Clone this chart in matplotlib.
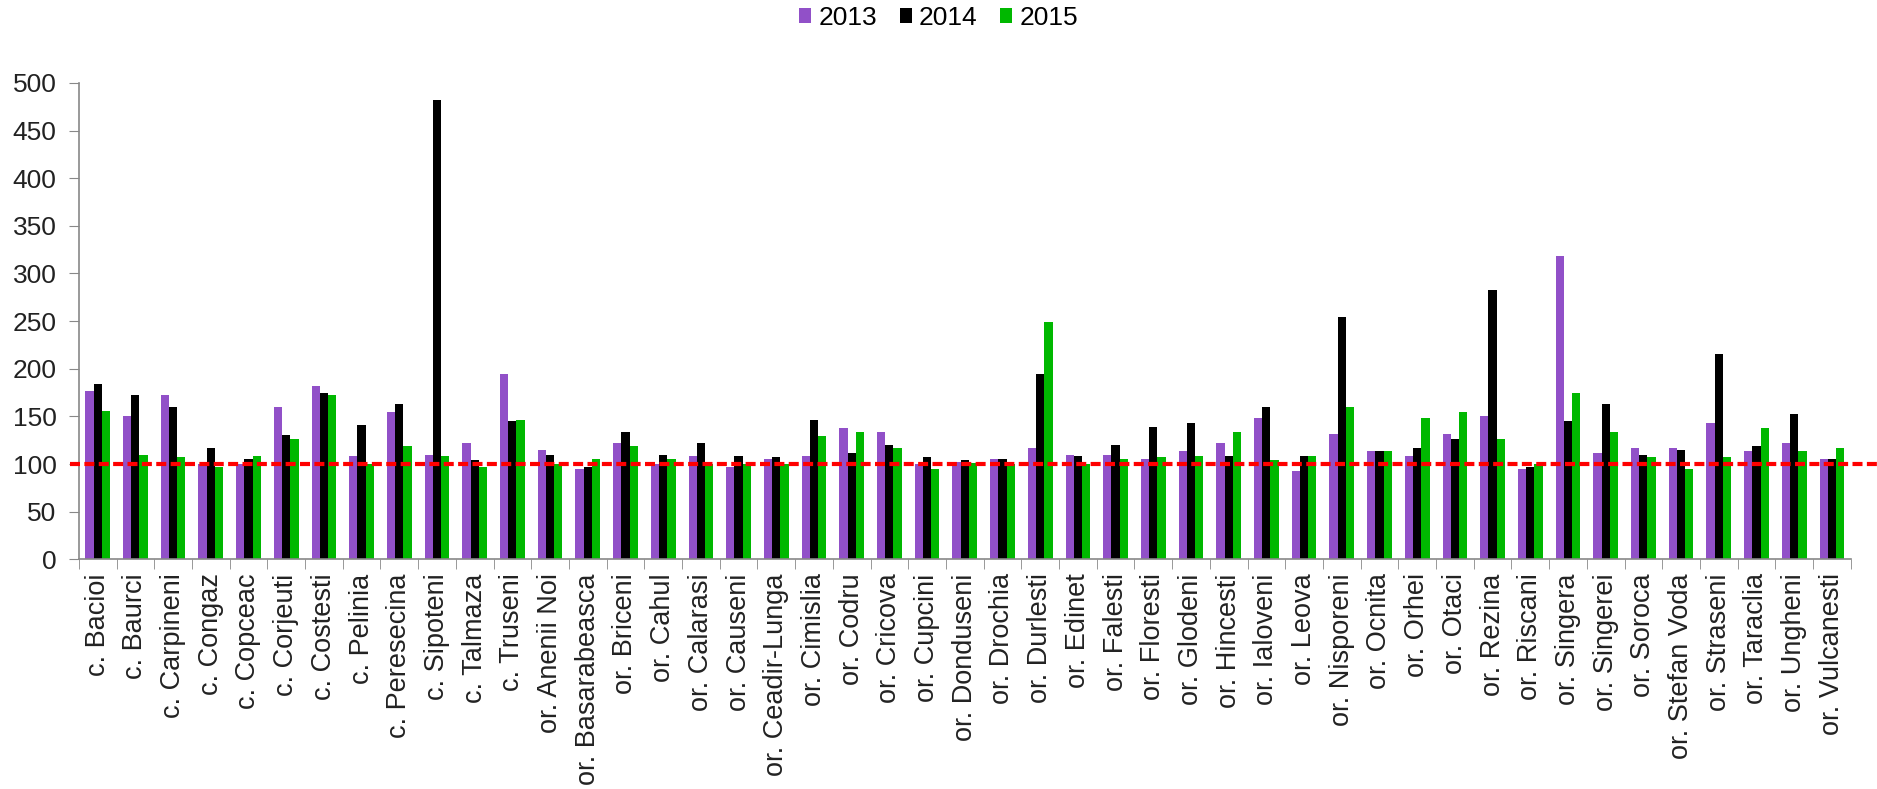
import matplotlib.pyplot as plt
import numpy as np

plt.rcParams['font.family'] = ['Liberation Sans', 'DejaVu Sans']

# Regions and index values per year
regions = ['c. Bacioi', 'c. Baurci', 'c. Carpineni', 'c. Congaz', 'c. Copceac',
           'c. Corjeuti', 'c. Costesti', 'c. Pelinia', 'c. Peresecina', 'c. Sipoteni',
           'c. Talmaza', 'c. Truseni', 'or. Anenii Noi', 'or. Basarabeasca', 'or. Briceni',
           'or. Cahul', 'or. Calarasi', 'or. Causeni', 'or. Ceadir-Lunga', 'or. Cimislia',
           'or. Codru', 'or. Cricova', 'or. Cupcini', 'or. Donduseni', 'or. Drochia',
           'or. Durlesti', 'or. Edinet', 'or. Falesti', 'or. Floresti', 'or. Glodeni',
           'or. Hincesti', 'or. Ialoveni', 'or. Leova', 'or. Nisporeni', 'or. Ocnita',
           'or. Orhei', 'or. Otaci', 'or. Rezina', 'or. Riscani', 'or. Singera',
           'or. Singerei', 'or. Soroca', 'or. Stefan Voda', 'or. Straseni', 'or. Taraclia',
           'or. Ungheni', 'or. Vulcanesti']

v2013 = [177, 150, 172, 100, 100, 160, 182, 108, 155, 110,
         122, 194, 115, 95, 122, 100, 108, 97, 105, 108,
         138, 134, 100, 102, 105, 117, 110, 110, 105, 114,
         122, 148, 93, 132, 114, 108, 132, 150, 95, 318,
         112, 117, 117, 143, 114, 122, 105]
v2014 = [184, 172, 160, 117, 105, 131, 175, 141, 163, 482,
         104, 145, 110, 97, 134, 110, 122, 108, 107, 146,
         112, 120, 107, 104, 105, 194, 108, 120, 139, 143,
         108, 160, 108, 254, 114, 117, 126, 283, 97, 145,
         163, 110, 115, 215, 119, 153, 105]
v2015 = [156, 110, 107, 97, 108, 126, 172, 100, 119, 108,
         97, 146, 100, 105, 119, 105, 100, 100, 100, 129,
         134, 117, 95, 101, 100, 249, 100, 105, 107, 108,
         134, 104, 108, 160, 114, 148, 155, 126, 100, 175,
         134, 107, 95, 107, 138, 114, 117]

years = ['2013', '2014', '2015']
colors = ['#9150C8', '#000000', '#00B800']
baseline = 100

fig = plt.figure(figsize=(18.77, 7.89), dpi=100)
ax = fig.add_axes([0.042, 0.291, 0.944, 0.604])

x = np.arange(len(regions))
w = 0.218
for i, (vals, c, yr) in enumerate(zip([v2013, v2014, v2015], colors, years)):
    ax.bar(x + (i - 1) * w, vals, width=w, color=c, label=yr)

# red reference line at 100, runs a bit past the plot area like the original
ax.plot([-0.005, 1.02], [baseline, baseline], transform=ax.get_yaxis_transform(),
        color='#FF0000', linestyle=(0, (2.4, 1.05)), linewidth=3, clip_on=False, zorder=5)

ax.set_xlim(-0.5, len(regions) - 0.5)
ax.set_ylim(0, 500)
ax.set_yticks(range(0, 501, 50))
ax.tick_params(axis='y', labelsize=19, length=7, color='#888888', pad=9,
               labelcolor='#222222')
ax.set_xticks(x)
ax.set_xticklabels(regions, rotation=90, fontsize=19.5, color='#222222')
ax.tick_params(axis='x', length=0, pad=10)
ax.set_xticks(np.arange(-0.5, len(regions), 1), minor=True)
ax.tick_params(axis='x', which='minor', length=7, color='#888888')

for s in ['top', 'right']:
    ax.spines[s].set_visible(False)
for s in ['left', 'bottom']:
    ax.spines[s].set_color('#888888')
    ax.spines[s].set_linewidth(1.2)

fig.legend(loc='center', bbox_to_anchor=(0.5, 1 - 18 / 789), ncol=3, frameon=False,
           fontsize=19, handlelength=0.46, handleheight=0.46, handletextpad=0.27,
           columnspacing=0.85, borderpad=0)

fig.savefig('out.png', dpi=100)
